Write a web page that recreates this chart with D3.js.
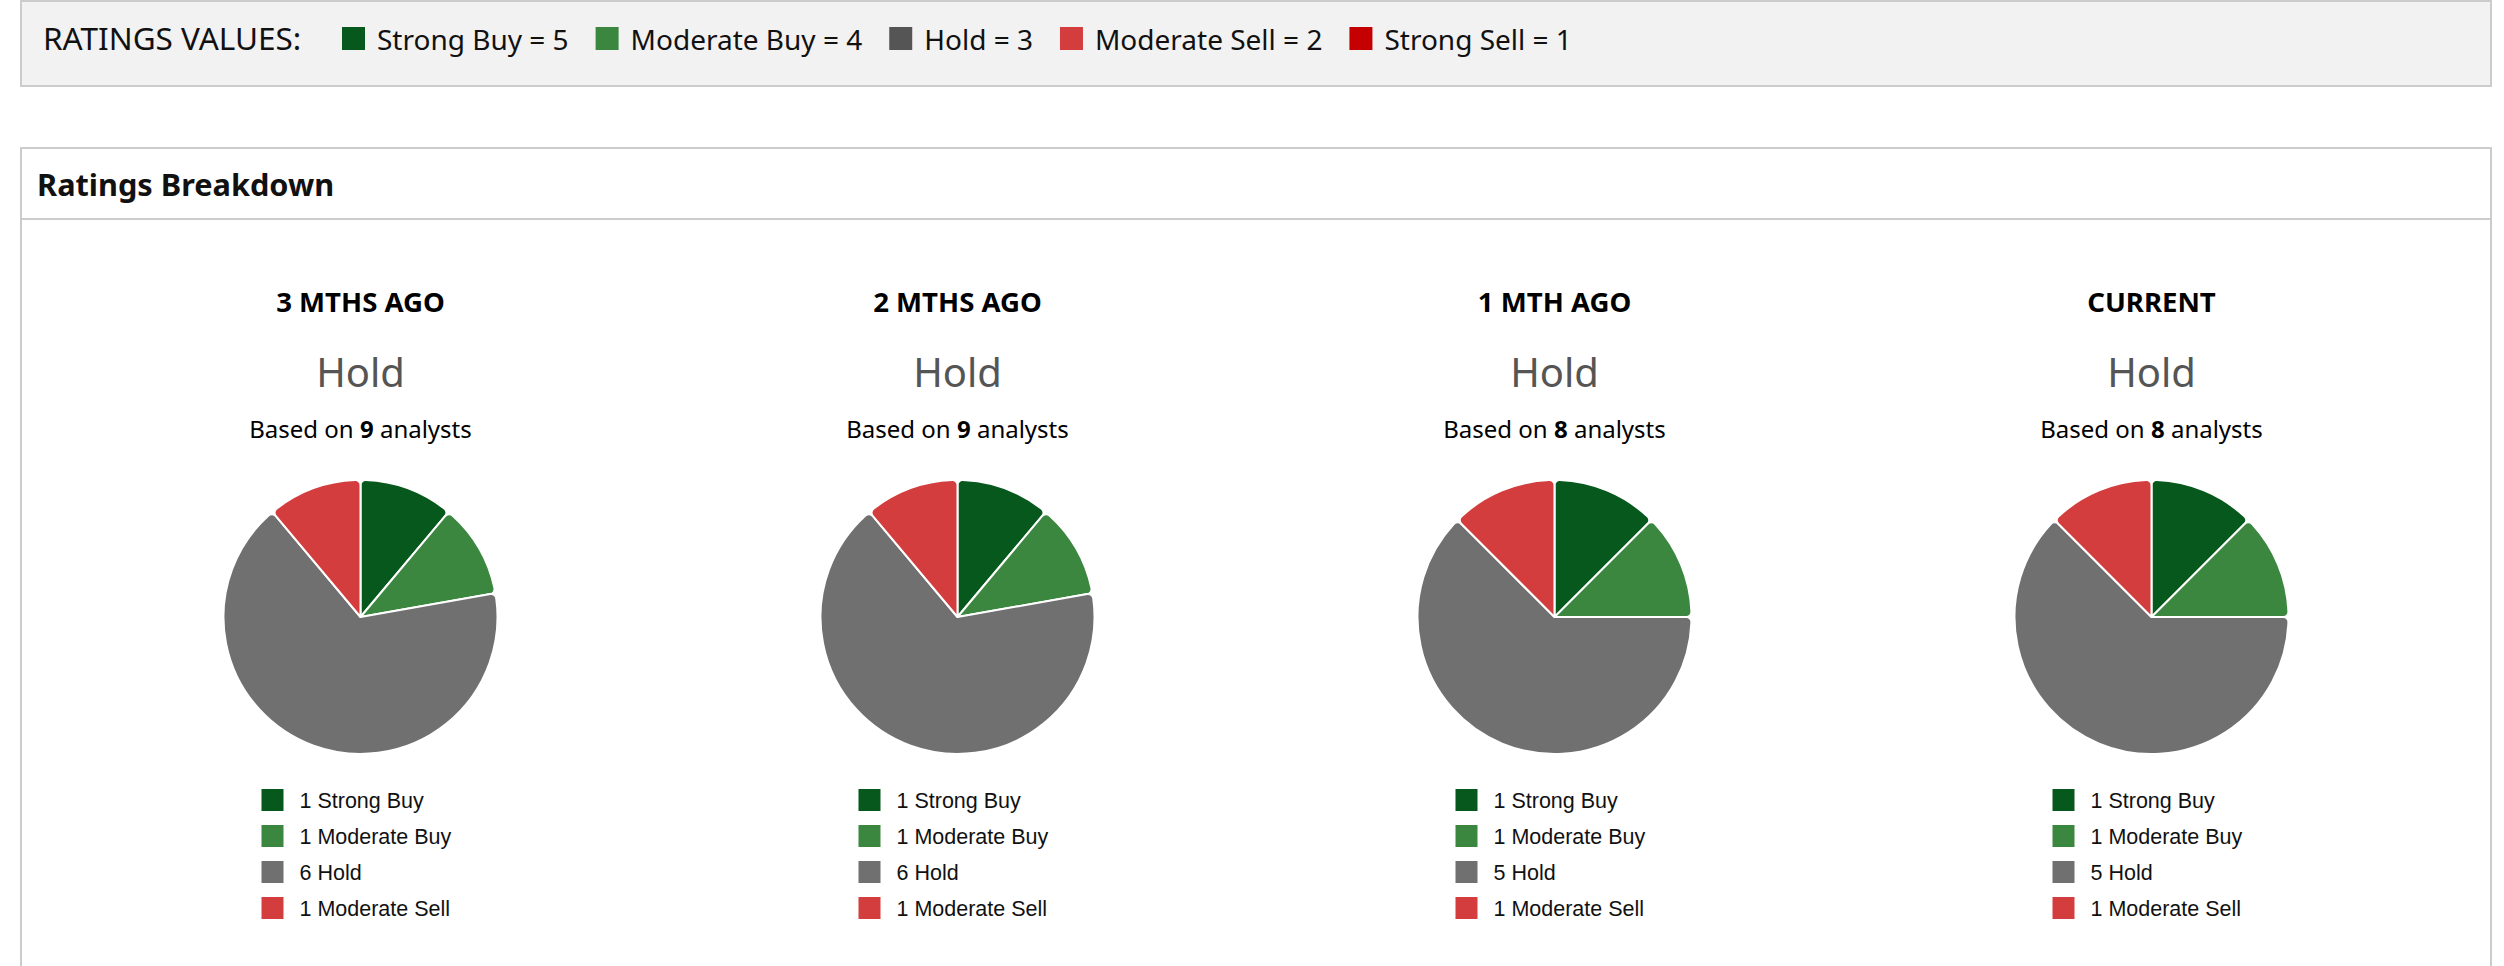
<!DOCTYPE html>
<html>
<head>
<meta charset="utf-8">
<script src="https://cdn.jsdelivr.net/npm/d3@7"></script>
<style>
  body { margin: 0; background: #fff; }
  svg { display: block; font-family: "Noto Sans", "Open Sans", sans-serif; }
</style>
</head>
<body>
<div id="chart"></div>
<script>
// rating categories, top legend values
const ratingNames = ["Strong Buy", "Moderate Buy", "Hold", "Moderate Sell", "Strong Sell"];
const ratingValues = [5, 4, 3, 2, 1];
const ratingColors = ["#07581c", "#3b873f", "#707070", "#d43d3d", "#c40000"];
const legendColors = ["#07581c", "#3b873f", "#555555", "#d43d3d", "#c40000"];

// periods and analyst counts per rating
const periods = ["3 MTHS AGO", "2 MTHS AGO", "1 MTH AGO", "CURRENT"];
const consensus = ["Hold", "Hold", "Hold", "Hold"];
const analysts = [9, 9, 8, 8];
const counts = [
    [1, 1, 6, 1, 0],
    [1, 1, 6, 1, 0],
    [1, 1, 5, 1, 0],
    [1, 1, 5, 1, 0]
];

const width = 2504, height = 966;
const svg = d3.select("#chart").append("svg").attr("width", width).attr("height", height);

// ---- top "ratings values" box ----
svg.append("rect")
    .attr("x", 21).attr("y", 1).attr("width", 2470).attr("height", 85)
    .attr("fill", "#f2f2f2").attr("stroke", "#cccccc").attr("stroke-width", 2);

svg.append("text")
    .attr("x", 43).attr("y", 50)
    .attr("font-size", 31.5).attr("fill", "#111")
    .text("RATINGS VALUES:");

let lx = 342;
ratingNames.forEach((name, i) => {
    const g = svg.append("g").attr("transform", `translate(${lx},0)`);
    g.append("rect").attr("x", 0).attr("y", 27).attr("width", 23).attr("height", 23)
        .attr("fill", legendColors[i]);
    const t = g.append("text").attr("x", 35).attr("y", 50)
        .attr("font-size", 28).attr("fill", "#111")
        .text(`${name} = ${ratingValues[i]}`);
    lx += 35 + t.node().getComputedTextLength() + 27;
});

// ---- ratings breakdown panel ----
svg.append("rect")
    .attr("x", 21).attr("y", 148).attr("width", 2470).attr("height", 900)
    .attr("fill", "#fff").attr("stroke", "#cccccc").attr("stroke-width", 2);
svg.append("line")
    .attr("x1", 21).attr("x2", 2491).attr("y1", 219).attr("y2", 219)
    .attr("stroke", "#cccccc").attr("stroke-width", 2);
svg.append("text")
    .attr("x", 37).attr("y", 196)
    .attr("font-size", 30.7).attr("font-weight", 700).attr("fill", "#111")
    .text("Ratings Breakdown");

const xBand = d3.scaleBand().domain(periods).range([62, 2450]);
const radius = 137;
const pie = d3.pie().sort(null).value(d => d.count);
const arc = d3.arc().innerRadius(0).outerRadius(radius).cornerRadius(5);

periods.forEach((p, i) => {
    const cx = xBand(p) + xBand.bandwidth() / 2;
    const col = svg.append("g").attr("transform", `translate(${cx},0)`);

    col.append("text").attr("y", 312).attr("text-anchor", "middle")
        .attr("font-size", 27.6).attr("font-weight", 700).attr("fill", "#000")
        .text(p);

    col.append("text").attr("y", 387).attr("text-anchor", "middle")
        .attr("font-size", 40).attr("fill", "#555")
        .text(consensus[i]);

    const based = col.append("text").attr("y", 438).attr("text-anchor", "middle")
        .attr("font-size", 24).attr("fill", "#000");
    based.append("tspan").text("Based on ");
    based.append("tspan").attr("font-weight", 700).text(analysts[i]);
    based.append("tspan").text(" analysts");

    const slices = ratingNames
        .map((name, k) => ({ name, count: counts[i][k], color: ratingColors[k] }))
        .filter(d => d.count > 0);

    col.append("g").attr("transform", "translate(0,617)")
        .selectAll("path")
        .data(pie(slices))
        .join("path")
        .attr("d", arc)
        .attr("fill", d => d.data.color)
        .attr("stroke", "#fff")
        .attr("stroke-width", 2)
        .attr("stroke-linejoin", "round");

    const leg = col.append("g").attr("transform", "translate(-99,789)");
    const rows = leg.selectAll("g")
        .data(slices)
        .join("g")
        .attr("transform", (d, k) => `translate(0,${k * 36})`);
    rows.append("rect").attr("width", 22).attr("height", 22).attr("fill", d => d.color);
    rows.append("text").attr("x", 38).attr("y", 19)
        .attr("font-family", "'Liberation Sans', Arial, sans-serif")
        .attr("font-size", 21.5).attr("fill", "#111")
        .text(d => `${d.count} ${d.name}`);
});
</script>
</body>
</html>
